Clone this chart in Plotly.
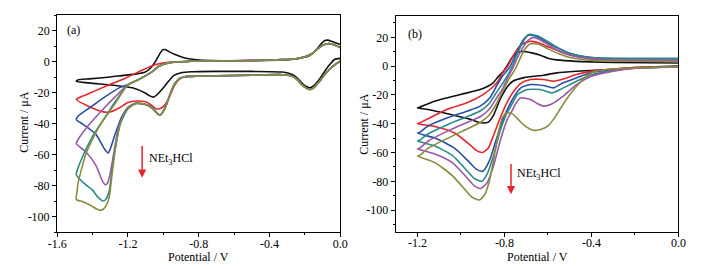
import plotly.graph_objects as go

# ---------------- Panel (a) data : potential (V), current (uA) ----------------
A_BLACK_V = [0.0, -0.033, -0.06, -0.088, -0.115, -0.143, -0.171, -0.195, -0.217, -0.245, -0.272, -0.327,
             -0.5, -0.7, -0.84, -0.9, -0.94, -0.971, -1.0, -1.026, -1.055, -1.08, -1.1, -1.175, -1.27,
             -1.42, -1.492, -1.48, -1.42, -1.3, -1.234, -1.15, -1.105, -1.075, -1.05, -1.025, -1.005,
             -0.99, -0.965, -0.934, -0.879, -0.824, -0.732, -0.5, -0.327, -0.25, -0.217, -0.18, -0.143,
             -0.115, -0.088, -0.07, -0.051, -0.025, 0.0]
A_BLACK_I = [2.0, 1.3, -2.0, -6.3, -11.0, -14.9, -17.0, -16.0, -13.8, -10.5, -8.4, -6.8,
             -6.4, -6.4, -6.6, -7.2, -9.0, -12.8, -17.0, -20.3, -23.0, -22.0, -20.5, -17.0, -15.5,
             -13.8, -12.8, -11.8, -11.2, -10.0, -9.1, -8.0, -7.0, -4.5, -0.9, 4.0, 7.5,
             7.7, 6.2, 4.5, 2.3, 1.3, 0.6, 0.6, 1.0, 1.6, 2.4, 3.4, 6.6,
             10.5, 13.5, 13.8, 13.1, 12.0, 11.0]

A_RED_V = [0.0, -0.03, -0.06, -0.088, -0.12, -0.152, -0.171, -0.195, -0.217, -0.245, -0.272, -0.327,
           -0.5, -0.7, -0.85, -0.879, -0.91, -0.935, -0.955, -0.975, -0.995, -1.02, -1.04, -1.07, -1.1,
           -1.15, -1.2, -1.25, -1.3, -1.34, -1.42, -1.492,
           -1.48, -1.436, -1.326, -1.215, -1.118, -1.044, -0.971, -0.84, -0.5, -0.327, -0.25, -0.2,
           -0.16, -0.13, -0.1, -0.069, -0.04, 0.0]
A_RED_I = [0.2, -2.0, -5.0, -8.4, -13.0, -17.0, -18.0, -17.0, -14.9, -11.5, -9.5, -8.5,
           -8.8, -9.2, -9.6, -9.8, -11.5, -15.0, -20.0, -25.0, -28.5, -30.5, -30.5, -28.0, -26.0,
           -25.5, -26.5, -30.0, -32.5, -32.5, -29.0, -24.5,
           -23.5, -21.4, -16.0, -10.8, -5.5, -2.0, -0.5, 0.2, 0.6, 1.2, 1.8, 3.0,
           5.0, 8.0, 10.5, 11.5, 11.0, 9.0]

A_BLUE_V = [0.0, -0.03, -0.06, -0.088, -0.12, -0.152, -0.171, -0.195, -0.217, -0.245, -0.272, -0.327,
            -0.5, -0.7, -0.85, -0.88, -0.91, -0.934, -0.955, -0.971, -0.985, -1.0, -1.017, -1.03,
            -1.044, -1.07, -1.1, -1.155, -1.2, -1.234, -1.27, -1.298, -1.312, -1.33, -1.381, -1.454,
            -1.492, -1.48, -1.418, -1.326, -1.25, -1.2, -1.137, -1.063, -1.026, -0.971, -0.842, -0.5,
            -0.327, -0.25, -0.2, -0.16, -0.13, -0.1, -0.069, -0.04, 0.0]
A_BLUE_I = [0.2, -2.0, -5.0, -8.4, -13.0, -17.0, -18.0, -17.0, -14.9, -11.5, -9.5, -8.5,
            -8.8, -9.2, -9.6, -9.8, -11.0, -14.0, -19.0, -24.0, -28.5, -32.0, -34.5, -34.0,
            -32.2, -29.5, -27.8, -27.0, -29.5, -35.4, -46.0, -55.8, -59.0, -57.0, -47.0, -40.5,
            -37.5, -35.0, -30.0, -22.5, -17.0, -14.8, -11.5, -6.5, -3.1, -0.9, 0.2, 0.6,
            1.2, 1.8, 3.0, 5.0, 8.0, 10.5, 11.5, 11.0, 9.0]

A_PURPLE_V = [0.0, -0.03, -0.06, -0.088, -0.12, -0.152, -0.171, -0.195, -0.217, -0.245, -0.272, -0.327,
              -0.5, -0.7, -0.85, -0.88, -0.91, -0.934, -0.955, -0.971, -0.985, -1.0, -1.017, -1.03,
              -1.044, -1.07, -1.1, -1.155, -1.2, -1.252, -1.28, -1.3, -1.316, -1.328, -1.345, -1.381,
              -1.436, -1.492, -1.48, -1.418, -1.326, -1.27, -1.2, -1.137, -1.063, -1.026, -0.971,
              -0.842, -0.5, -0.327, -0.25, -0.2, -0.16, -0.13, -0.1, -0.069, -0.04, 0.0]
A_PURPLE_I = [0.2, -2.0, -5.0, -8.4, -13.0, -17.0, -18.0, -17.0, -14.9, -11.5, -9.5, -8.5,
              -8.8, -9.2, -9.6, -9.8, -11.0, -14.0, -19.0, -24.0, -28.5, -32.0, -34.5, -34.0,
              -32.2, -29.5, -27.8, -27.0, -30.0, -42.0, -59.0, -72.0, -78.5, -79.5, -77.0, -67.0,
              -58.5, -53.0, -50.0, -40.5, -29.0, -22.5, -15.0, -11.5, -6.5, -3.1, -0.9,
              0.2, 0.6, 1.2, 1.8, 3.0, 5.0, 8.0, 10.5, 11.5, 11.0, 9.0]

A_TEAL_V = [0.0, -0.03, -0.06, -0.088, -0.12, -0.152, -0.171, -0.195, -0.217, -0.245, -0.272, -0.327,
            -0.5, -0.7, -0.85, -0.88, -0.91, -0.934, -0.955, -0.971, -0.985, -1.0, -1.017, -1.03,
            -1.044, -1.07, -1.1, -1.155, -1.2, -1.243, -1.27, -1.289, -1.307, -1.326, -1.34, -1.37,
            -1.4, -1.454, -1.492, -1.48, -1.464, -1.4, -1.326, -1.27, -1.2, -1.137, -1.063, -1.026,
            -0.971, -0.842, -0.5, -0.327, -0.25, -0.2, -0.16, -0.13, -0.1, -0.069, -0.04, 0.0]
A_TEAL_I = [0.2, -2.0, -5.0, -8.4, -13.0, -17.0, -18.0, -17.0, -14.9, -11.5, -9.5, -8.5,
            -8.8, -9.2, -9.6, -9.8, -11.0, -14.0, -19.0, -24.0, -28.5, -32.0, -34.5, -34.0,
            -32.2, -29.5, -27.8, -27.0, -30.5, -40.0, -55.0, -69.0, -84.0, -89.0, -90.0, -87.5,
            -83.0, -78.0, -73.0, -68.0, -63.4, -48.3, -35.4, -25.5, -15.0, -11.5, -6.5, -3.1,
            -0.9, 0.2, 0.6, 1.2, 1.8, 3.0, 5.0, 8.0, 10.5, 11.5, 11.0, 9.0]

A_OLIVE_V = [0.0, -0.03, -0.06, -0.088, -0.12, -0.152, -0.171, -0.195, -0.217, -0.245, -0.272, -0.327,
             -0.5, -0.7, -0.85, -0.88, -0.91, -0.934, -0.955, -0.971, -0.985, -1.0, -1.017, -1.03,
             -1.044, -1.07, -1.1, -1.155, -1.206, -1.243, -1.27, -1.289, -1.307, -1.326, -1.35, -1.38,
             -1.4, -1.454, -1.492, -1.488, -1.482, -1.436, -1.363, -1.27, -1.2, -1.137, -1.063,
             -1.026, -0.971, -0.842, -0.5, -0.327, -0.25, -0.2, -0.16, -0.13, -0.1, -0.069, -0.04, 0.0]
A_OLIVE_I = [0.2, -2.0, -5.0, -8.4, -13.0, -17.0, -18.0, -17.0, -14.9, -11.5, -9.5, -8.5,
             -8.8, -9.2, -9.6, -9.8, -11.0, -14.0, -19.0, -24.0, -28.5, -32.0, -34.5, -34.0,
             -32.2, -29.5, -27.8, -27.0, -31.0, -40.0, -55.0, -72.0, -88.0, -93.5, -96.0, -95.0,
             -93.5, -90.5, -89.0, -84.0, -78.5, -59.0, -42.0, -26.7, -15.0, -11.5, -6.5,
             -3.1, -0.9, 0.2, 0.6, 1.2, 1.8, 3.0, 5.0, 8.0, 10.5, 11.5, 11.0, 9.0]

# ---------------- Panel (b) data ----------------
B_BLACK_V = [0.0, -0.2, -0.3, -0.47, -0.56, -0.62, -0.71, -0.762, -0.79, -0.82, -0.85, -0.875, -0.895,
             -0.92, -0.957, -1.047, -1.152, -1.2,
             -1.19, -1.122, -1.002, -0.912, -0.852, -0.83, -0.807, -0.785, -0.765, -0.745, -0.72,
             -0.7, -0.67, -0.635, -0.6, -0.56, -0.47, -0.3, 0.0]
B_BLACK_I = [0.0, -1.0, -2.2, -3.6, -4.7, -6.3, -8.0, -10.5, -15.0, -23.0, -34.0, -38.9, -39.5,
             -39.0, -37.0, -33.6, -30.1, -29.0,
             -28.5, -24.4, -19.7, -16.3, -11.6, -7.5, -4.0, 1.0, 6.0, 9.0, 10.2,
             10.0, 9.0, 7.5, 5.5, 4.3, 3.3, 2.6, 2.2]

B_RED_V = [0.0, -0.2, -0.3, -0.4, -0.47, -0.53, -0.574, -0.62, -0.68, -0.725, -0.755, -0.78, -0.8,
           -0.825, -0.85, -0.875, -0.9, -0.93, -0.96, -1.03, -1.12, -1.2,
           -1.19, -1.152, -1.062, -0.972, -0.9, -0.85, -0.83, -0.81, -0.785, -0.755, -0.725, -0.69,
           -0.672, -0.64, -0.605, -0.53, -0.469, -0.4, -0.3, 0.0]
B_RED_I = [-0.3, -1.0, -2.0, -3.5, -5.9, -9.0, -10.5, -9.3, -9.3, -12.0, -17.0, -23.0, -29.0,
           -38.0, -48.0, -57.0, -60.0, -58.5, -54.5, -46.5, -42.0, -40.0,
           -39.5, -36.6, -30.0, -25.5, -20.0, -14.0, -10.5, -5.0, 0.0, 8.5, 14.5, 17.0,
           17.2, 16.0, 13.8, 9.2, 6.8, 5.0, 4.0, 3.5]

B_BLUE_V = [0.0, -0.2, -0.3, -0.4, -0.47, -0.53, -0.574, -0.62, -0.68, -0.725, -0.755, -0.78, -0.81,
            -0.84, -0.87, -0.9, -0.93, -0.96, -1.03, -1.12, -1.2,
            -1.19, -1.152, -1.062, -0.972, -0.912, -0.867, -0.837, -0.81, -0.777, -0.745, -0.715,
            -0.69, -0.66, -0.62, -0.57, -0.5, -0.4, -0.3, 0.0]
B_BLUE_I = [-0.5, -1.5, -2.5, -4.5, -8.2, -11.6, -15.1, -13.5, -12.8, -15.1, -20.9, -28.0, -38.0,
            -52.0, -66.0, -73.0, -71.5, -67.0, -57.0, -50.0, -46.5,
            -46.0, -41.7, -35.9, -31.3, -27.8, -22.0, -14.0, -7.0, -1.0, 9.0, 18.0,
            21.5, 21.0, 18.0, 13.5, 9.0, 6.0, 5.2, 5.0]

B_TEAL_V = [0.0, -0.2, -0.3, -0.4, -0.469, -0.544, -0.582, -0.635, -0.695, -0.74, -0.762, -0.79,
            -0.82, -0.85, -0.88, -0.905, -0.94, -0.97, -1.04, -1.12, -1.2,
            -1.19, -1.15, -1.06, -0.97, -0.91, -0.87, -0.84, -0.8, -0.77, -0.74, -0.71, -0.69,
            -0.65, -0.6, -0.55, -0.5, -0.45, -0.4, -0.3, 0.0]
B_TEAL_I = [-0.5, -1.5, -3.0, -6.0, -10.5, -16.3, -18.6, -16.3, -16.3, -19.7, -25.5, -33.0,
            -45.0, -62.0, -75.0, -80.0, -78.0, -73.0, -62.0, -55.5, -52.0,
            -51.5, -47.0, -40.5, -35.0, -31.0, -26.0, -19.0, -10.0, -2.0, 9.0, 18.0, 22.0,
            21.0, 17.0, 12.5, 9.0, 7.0, 6.0, 5.5, 5.5]

B_PURPLE_V = [0.0, -0.2, -0.3, -0.4, -0.469, -0.53, -0.585, -0.62, -0.65, -0.68, -0.725, -0.746,
              -0.762, -0.79, -0.82, -0.85, -0.88, -0.91, -0.94, -0.97, -1.04, -1.12, -1.2,
              -1.19, -1.15, -1.06, -0.97, -0.91, -0.87, -0.84, -0.81, -0.785, -0.762, -0.74,
              -0.715, -0.69, -0.67, -0.64, -0.6, -0.55, -0.5, -0.4, -0.3, 0.0]
B_PURPLE_I = [-0.6, -1.5, -3.5, -7.0, -12.8, -20.9, -26.5, -27.8, -26.0, -23.2, -22.0, -25.5,
              -30.1, -38.0, -52.0, -69.0, -81.0, -85.0, -83.0, -78.0, -67.0, -61.0, -57.5,
              -57.0, -52.0, -45.0, -39.0, -35.0, -30.0, -23.0, -16.0, -8.0, -1.5, 6.0,
              13.0, 18.0, 19.8, 18.5, 15.0, 10.5, 7.5, 5.0, 4.2, 4.0]

B_OLIVE_V = [0.0, -0.15, -0.3, -0.38, -0.42, -0.455, -0.485, -0.515, -0.545, -0.575, -0.6, -0.635,
             -0.67, -0.71, -0.74, -0.765, -0.79, -0.81, -0.83, -0.85, -0.87, -0.89, -0.915, -0.95,
             -0.98, -1.04, -1.12, -1.2,
             -1.19, -1.15, -1.06, -0.97, -0.91, -0.87, -0.84, -0.81, -0.78, -0.75, -0.72, -0.7,
             -0.68, -0.64, -0.6, -0.55, -0.5, -0.4, -0.3, 0.0]
B_OLIVE_I = [-0.5, -1.0, -2.0, -3.6, -6.5, -11.7, -17.0, -23.0, -30.0, -37.0, -41.5, -44.0,
             -44.5, -41.0, -36.5, -33.0, -32.5, -36.0, -48.0, -65.0, -80.0, -89.0, -93.0, -91.0,
             -86.0, -76.0, -67.0, -62.5,
             -62.0, -57.0, -50.0, -43.5, -39.0, -34.0, -27.0, -18.0, -9.0, -2.0, 8.0, 13.0,
             15.5, 15.0, 12.0, 8.5, 6.0, 4.0, 3.5, 3.0]

# ---------------- ticks / labels ----------------
A_XTICKS = [-1.6, -1.2, -0.8, -0.4, 0.0]
A_XTEXT = ["-1.6", "-1.2", "-0.8", "-0.4", "0.0"]
B_XTICKS = [-1.2, -0.8, -0.4, 0.0]
B_XTEXT = ["-1.2", "-0.8", "-0.4", "0.0"]
YTICKS = [20, 0, -20, -40, -60, -80, -100]
YTEXT = ["20", "0", "-20", "-40", "-60", "-80", "-100"]

COLORS = {"black": "#111111", "red": "#e4262c", "blue": "#2c4ea3",
          "purple": "#9a58a8", "teal": "#2a8a8a", "olive": "#8a8a40"}

FONT = "Liberation Serif, Times New Roman, serif"

fig = go.Figure()

series_a = [(A_BLACK_V, A_BLACK_I, "black"), (A_RED_V, A_RED_I, "red"), (A_BLUE_V, A_BLUE_I, "blue"),
            (A_PURPLE_V, A_PURPLE_I, "purple"), (A_TEAL_V, A_TEAL_I, "teal"), (A_OLIVE_V, A_OLIVE_I, "olive")]
series_b = [(B_BLACK_V, B_BLACK_I, "black"), (B_RED_V, B_RED_I, "red"), (B_BLUE_V, B_BLUE_I, "blue"),
            (B_TEAL_V, B_TEAL_I, "teal"), (B_PURPLE_V, B_PURPLE_I, "purple"), (B_OLIVE_V, B_OLIVE_I, "olive")]

for v, i, c in series_a:
    fig.add_trace(go.Scatter(x=v, y=i, mode="lines", xaxis="x", yaxis="y",
                             line=dict(color=COLORS[c], width=1.6, shape="spline", smoothing=0.6),
                             showlegend=False, hoverinfo="skip"))
for v, i, c in series_b:
    fig.add_trace(go.Scatter(x=v, y=i, mode="lines", xaxis="x2", yaxis="y2",
                             line=dict(color=COLORS[c], width=1.6, shape="spline", smoothing=0.6),
                             showlegend=False, hoverinfo="skip"))

W, H = 707, 269
axis_common = dict(showline=True, linecolor="black", linewidth=1.3, mirror=True,
                   ticks="outside", ticklen=4, tickwidth=1, tickcolor="black",
                   showgrid=False, zeroline=False,
                   tickfont=dict(family=FONT, size=12, color="black"), tickmode="array")

fig.update_layout(
    width=W, height=H, margin=dict(l=0, r=0, t=0, b=0),
    paper_bgcolor="white", plot_bgcolor="white",
    xaxis=dict(domain=[49.3 / W, 339 / W], range=[-1.6, 0.0], tickvals=A_XTICKS, ticktext=A_XTEXT,
               minor=dict(ticks="outside", ticklen=2, tickmode="linear", tick0=0, dtick=0.2,
                          tickcolor="black"),
               ticklabelstandoff=-4, anchor="y", **axis_common),
    yaxis=dict(domain=[(H - 232) / H, (H - 15) / H], range=[-110, 30], tickvals=YTICKS, ticktext=YTEXT,
               minor=dict(ticks="outside", ticklen=2, tickmode="linear", tick0=0, dtick=10,
                          tickcolor="black"),
               anchor="x", **axis_common),
    xaxis2=dict(domain=[395.7 / W, 685 / W], range=[-1.3, 0.0], tickvals=B_XTICKS, ticktext=B_XTEXT,
                minor=dict(ticks="outside", ticklen=2, tickmode="linear", tick0=0, dtick=0.2,
                           tickcolor="black"),
                ticklabelstandoff=-4, anchor="y2", **axis_common),
    yaxis2=dict(domain=[(H - 231.7) / H, (H - 15.7) / H], range=[-115, 35], tickvals=YTICKS, ticktext=YTEXT,
                minor=dict(ticks="outside", ticklen=2, tickmode="linear", tick0=0, dtick=10,
                           tickcolor="black"),
                anchor="x2", **axis_common),
)

tf = dict(family=FONT, size=12, color="black")
ann = []
# axis titles
ann.append(dict(text="Potential / V", x=(49.3 + 339) / 2 / W, y=(H - 257) / H, xref="paper", yref="paper",
                showarrow=False, font=tf, xanchor="center", yanchor="middle"))
ann.append(dict(text="Potential / V", x=(395.7 + 685) / 2 / W, y=(H - 257) / H, xref="paper", yref="paper",
                showarrow=False, font=tf, xanchor="center", yanchor="middle"))
ann.append(dict(text="Current / μA", x=15 / W, y=(H - 122) / H, xref="paper", yref="paper",
                showarrow=False, font=tf, textangle=-90, xanchor="center", yanchor="middle"))
ann.append(dict(text="Current / μA", x=363 / W, y=(H - 124) / H, xref="paper", yref="paper",
                showarrow=False, font=tf, textangle=-90, xanchor="center", yanchor="middle"))
# panel labels
ann.append(dict(text="(a)", x=-1.555, y=20, xref="x", yref="y", showarrow=False, font=tf,
                xanchor="left", yanchor="middle"))
ann.append(dict(text="(b)", x=-1.255, y=22.5, xref="x2", yref="y2", showarrow=False, font=tf,
                xanchor="left", yanchor="middle"))
# arrows
ann.append(dict(text="", x=-1.12, y=-75, ax=-1.12, ay=-53.5, xref="x", yref="y", axref="x", ayref="y",
                showarrow=True, arrowhead=2, arrowsize=1.1, arrowwidth=1.5, arrowcolor="#e4262c"))
ann.append(dict(text="NEt<sub>3</sub>HCl", x=-1.09, y=-63, xref="x", yref="y", showarrow=False, font=tf,
                xanchor="left", yanchor="middle"))
ann.append(dict(text="", x=-0.77, y=-89, ax=-0.77, ay=-67, xref="x2", yref="y2", axref="x2", ayref="y2",
                showarrow=True, arrowhead=2, arrowsize=1.1, arrowwidth=1.5, arrowcolor="#e4262c"))
ann.append(dict(text="NEt<sub>3</sub>HCl", x=-0.75, y=-75, xref="x2", yref="y2", showarrow=False, font=tf,
                xanchor="left", yanchor="middle"))
fig.update_layout(annotations=ann)

fig.write_html("out.html", config={"displayModeBar": False},
               post_script="document.body.style.margin='0px';document.body.style.overflow='hidden';")
